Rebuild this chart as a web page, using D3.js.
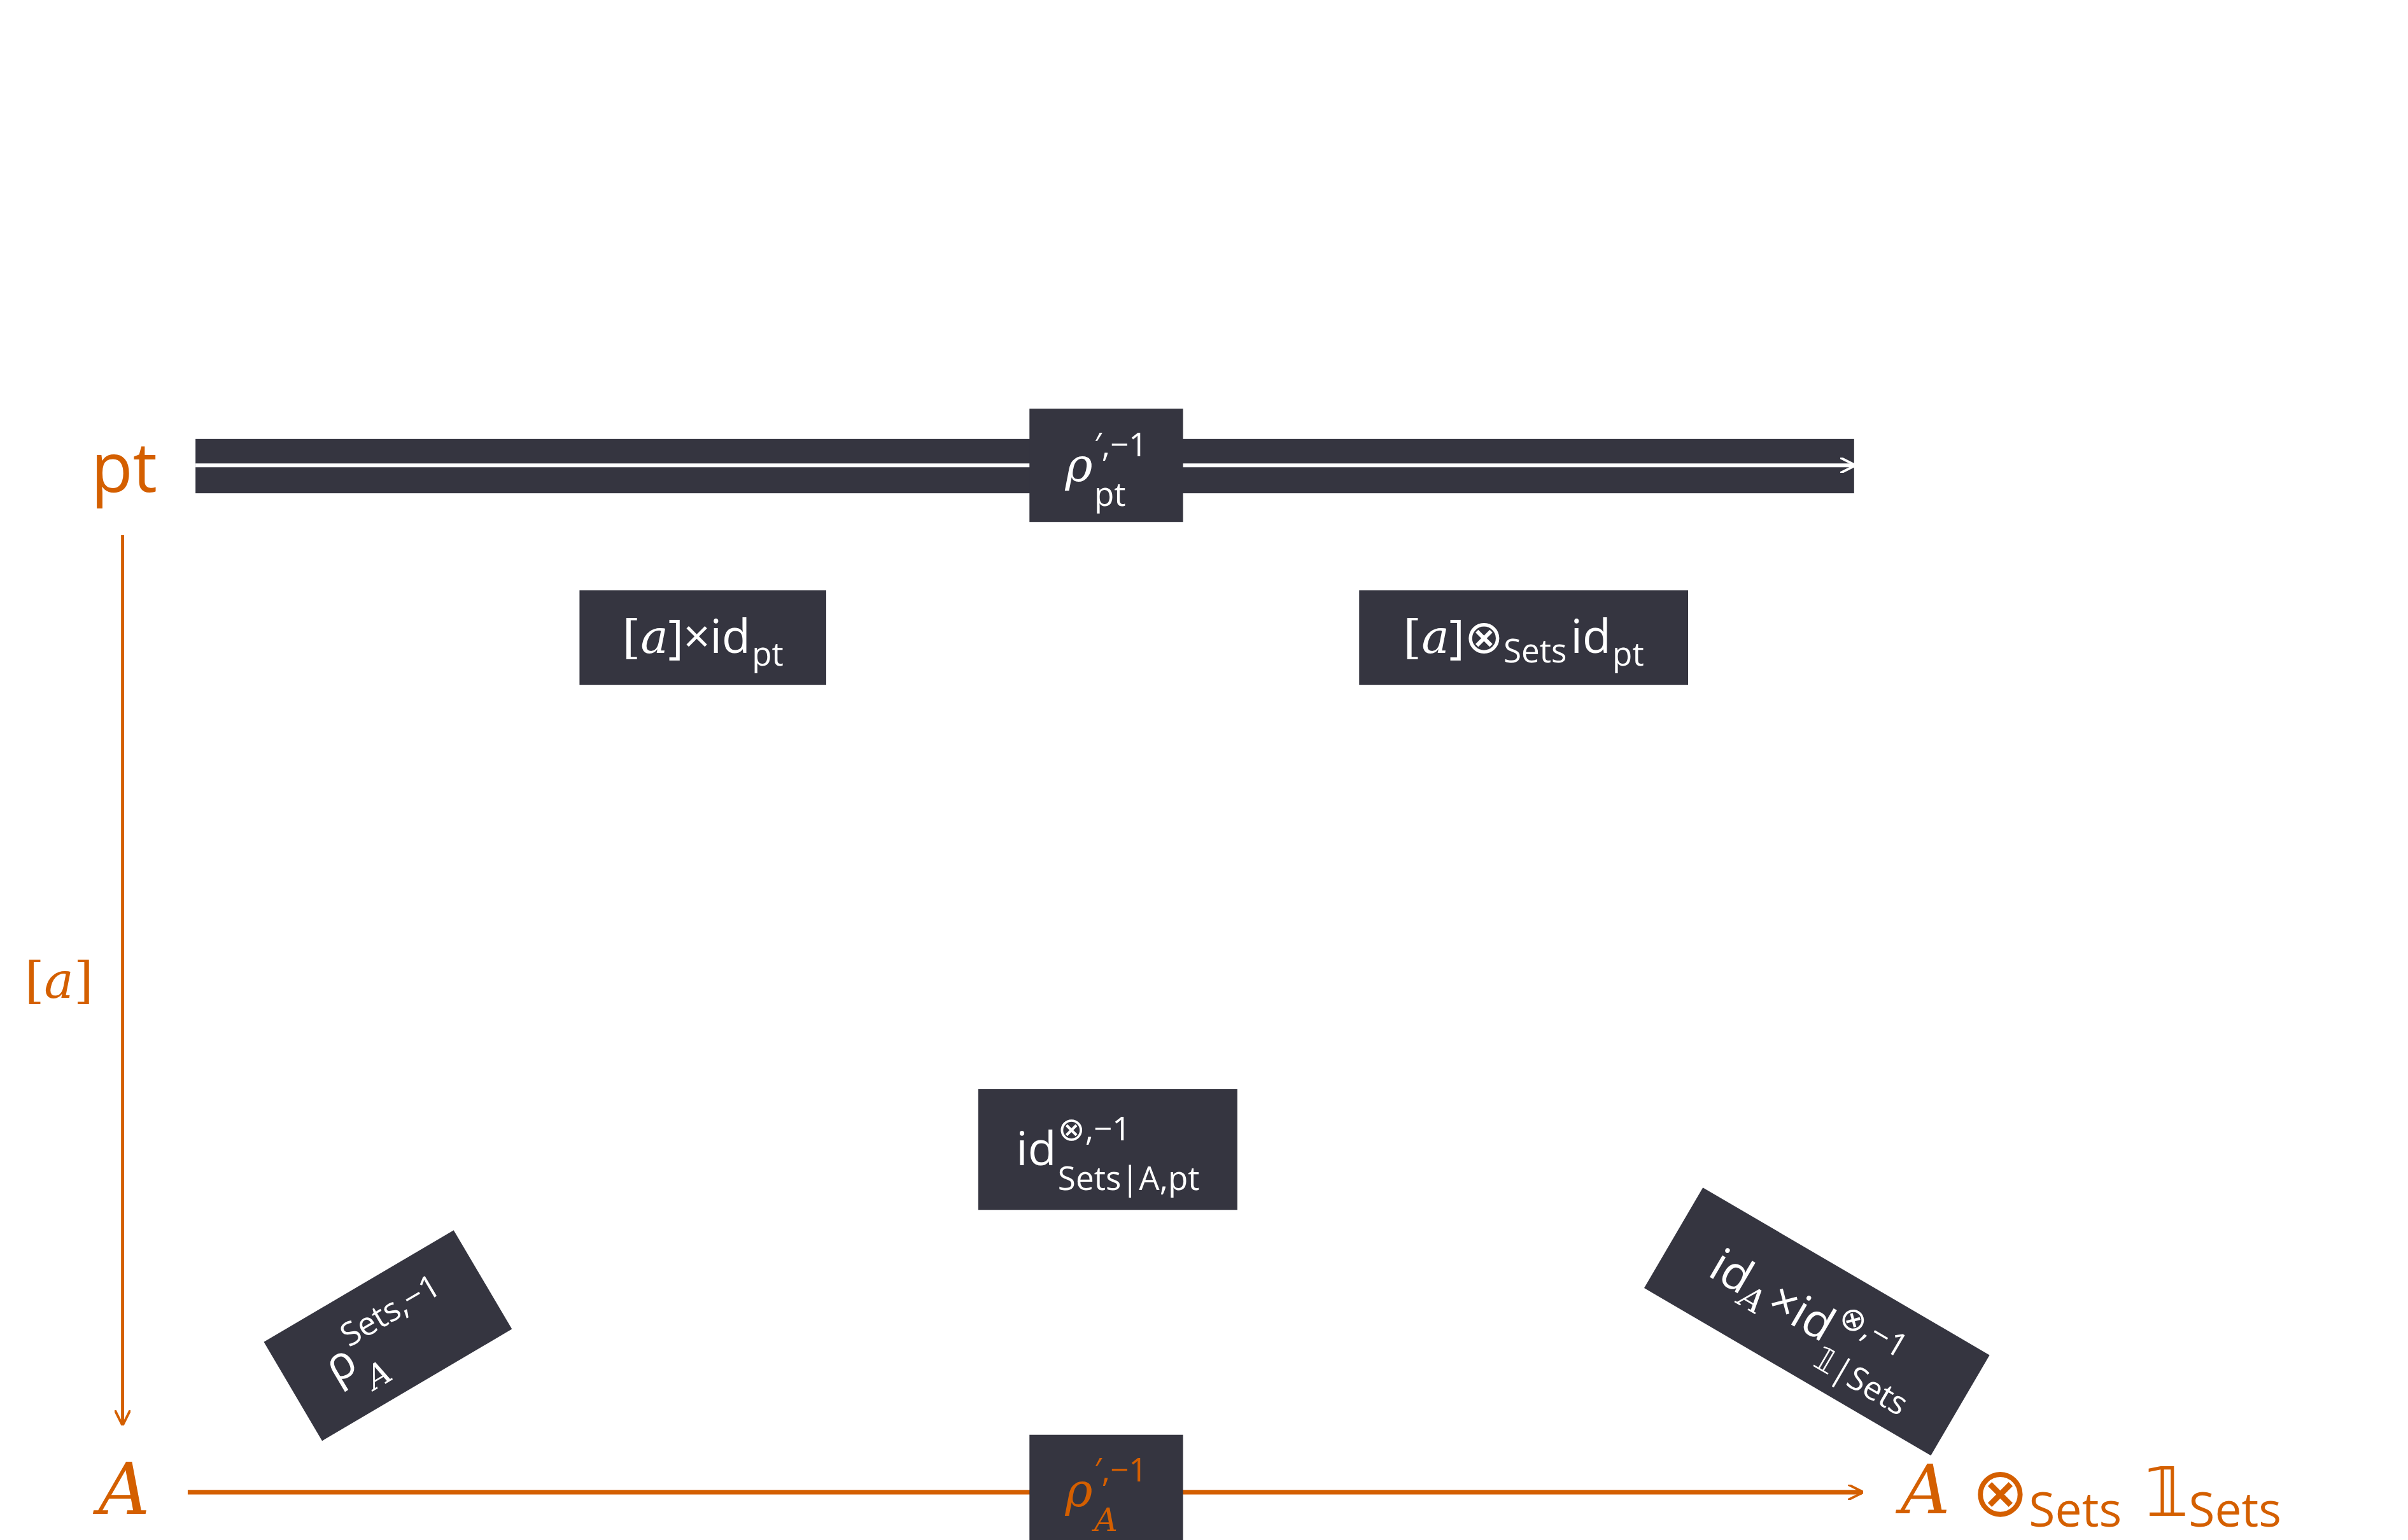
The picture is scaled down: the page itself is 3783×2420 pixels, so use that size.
<!doctype html>
<html><head><meta charset="utf-8">
<style>body{margin:0;background:#fff}svg{display:block}</style>
</head><body>
<svg id="c"></svg>
<script src="https://d3js.org/d3.v7.min.js"></script>
<script>
var W = 3783, H = 2420, S = 3783 / 1552;
var ORANGE = "#d45f00", DARK = "#353540";

// diagram data (display units, scaled by S)
var nodes = [
  {id: "pt", x: 80, y: 300, parts: [{t: "pt"}], size: 44},
  {id: "A", x: 80, y: 960, parts: [{t: "A", it: 1}], size: 46},
  {id: "T", x: 1225, y: 960, anchor: "start", size: 44,
   parts: [{t: "A ", it: 1}, {t: "⊗"}, {t: "Sets", sub: 1}, {t: " 𝟙"}, {t: "Sets", sub: 1}]}
];
var edges = [
  {x1: 126, y1: 300, x2: 1195, y2: 300, kind: "double"},
  {x1: 79, y1: 345, x2: 79, y2: 918, kind: "orange"},
  {x1: 121, y1: 962, x2: 1200, y2: 962, kind: "orangeThick"}
];
var boxes = [
  {cx: 713, cy: 300, w: 99, h: 73, rot: 0, color: "#fff", base: [{t: "ρ", it: 1}], sup: "′,−1", sub: "pt"},
  {cx: 453, cy: 411, w: 159, h: 61, rot: 0, color: "#fff", base: [{t: "[", f: "serif"}, {t: "a", it: 1}, {t: "]×id", f: "mix"}], sub: "pt"},
  {cx: 982, cy: 411, w: 212, h: 61, rot: 0, color: "#fff", base: [{t: "[", f: "serif"}, {t: "a", it: 1}, {t: "]⊗", f: "mix"}, {t: "Sets", small: 1}, {t: "id"}], sub: "pt"},
  {cx: 714, cy: 741, w: 167, h: 78, rot: 0, color: "#fff", base: [{t: "id"}], sup: "⊗,−1", sub: "Sets|A,pt"},
  {cx: 713, cy: 961, w: 99, h: 72, rot: 0, color: ORANGE, base: [{t: "ρ", it: 1}], sup: "′,−1", sub: "A", subIt: 1},
  {cx: 250, cy: 861, w: 142, h: 74, rot: -30.5, color: "#fff", base: [{t: "ρ"}], sup: "Sets,−1", sub: "A", subIt: 1},
  {cx: 1171, cy: 852, w: 214, h: 75, rot: 30.3, color: "#fff", base: [{t: "id"}, {t: "A", it: 1, small: 1}, {t: "×id"}], sup: "⊗,−1", sub: "𝟙|Sets"}
];
var edgeLabels = [{x: 38, y: 632, parts: [{t: "[", f: "serif"}, {t: "a", it: 1}, {t: "]", f: "serif"}]}];

var sx = d3.scaleLinear().domain([0, 1552]).range([0, W]);
var sy = d3.scaleLinear().domain([0, 2420 / S]).range([0, H]);

var svg = d3.select("#c").attr("width", W).attr("height", H);
var defs = svg.append("defs");
function marker(id, col) {
  defs.append("marker").attr("id", id).attr("viewBox", "0 0 10 10").attr("refX", 9).attr("refY", 5)
    .attr("markerWidth", 10).attr("markerHeight", 10).attr("markerUnits", "userSpaceOnUse")
    .attr("orient", "auto")
    .append("path").attr("d", "M0,0 L10,5 L0,10").attr("fill", "none").attr("stroke", col).attr("stroke-width", 1.6);
}

var sans = "'Open Sans', 'DejaVu Sans', sans-serif", serif = "'DejaVu Serif', serif";
function addParts(t, parts, size) {
  parts.forEach(function(p) {
    var ts = t.append("tspan").text(p.t)
      .attr("font-family", p.it || p.f === "serif" ? serif : sans)
      .attr("font-style", p.it ? "italic" : null);
    if (p.sub) ts.attr("font-size", size * 0.7).attr("dy", size * 0.28);
    else if (p.small) ts.attr("font-size", size * 0.7).attr("dy", size * 0.2);
    else ts.attr("font-size", size);
    if (p.sub || p.small) {
      var back = t.append("tspan").text("\u200a").attr("dy", -(p.sub ? size * 0.28 : size * 0.2)).attr("font-size", size);
    }
  });
}

var g = svg.append("g").attr("transform", "scale(" + S + ")");

// edges
edges.forEach(function(e) {
  if (e.kind === "double") {
    g.append("rect").attr("x", e.x1).attr("y", e.y1 - 17).attr("width", e.x2 - e.x1).attr("height", 35).attr("fill", DARK);
    marker("mw", "#fff");
    g.append("line").attr("x1", e.x1).attr("y1", e.y1).attr("x2", e.x2).attr("y2", e.y2)
      .attr("stroke", "#fff").attr("stroke-width", 2.5).attr("marker-end", "url(#mw)");
  } else {
    marker("mo" + e.kind, ORANGE);
    g.append("line").attr("x1", e.x1).attr("y1", e.y1).attr("x2", e.x2).attr("y2", e.y2)
      .attr("stroke", ORANGE).attr("stroke-width", e.kind === "orangeThick" ? 3 : 2)
      .attr("marker-end", "url(#mo" + e.kind + ")");
  }
});

// nodes
nodes.forEach(function(n) {
  var t = g.append("text").attr("x", n.x).attr("y", n.y).attr("fill", ORANGE)
    .attr("text-anchor", n.anchor || "middle").attr("dominant-baseline", "central");
  addParts(t, n.parts, n.size);
});
edgeLabels.forEach(function(l) {
  var t = g.append("text").attr("x", l.x).attr("y", l.y).attr("fill", ORANGE)
    .attr("text-anchor", "middle").attr("dominant-baseline", "central");
  addParts(t, l.parts, 32);
});

// label boxes
boxes.forEach(function(b) {
  var bg = g.append("g").attr("transform", "translate(" + b.cx + "," + b.cy + ") rotate(" + b.rot + ")");
  bg.append("rect").attr("x", -b.w / 2).attr("y", -b.h / 2).attr("width", b.w).attr("height", b.h).attr("fill", DARK);
  var inner = bg.append("g");
  var size = 30;
  var t = inner.append("text").attr("fill", b.color).attr("y", 10);
  addParts(t, b.base, size);
  var bw = t.node().getComputedTextLength();
  var supW = 0, subW = 0;
  if (b.sup) {
    var s1 = inner.append("text").attr("x", bw + 1).attr("y", -6).attr("fill", b.color)
      .attr("font-family", sans).attr("font-size", size * 0.7).text(b.sup);
    supW = s1.node().getComputedTextLength();
  }
  if (b.sub) {
    var s2 = inner.append("text").attr("x", bw + 1).attr("y", b.sup ? 26 : 18).attr("fill", b.color)
      .attr("font-family", b.subIt ? serif : sans).attr("font-style", b.subIt ? "italic" : null)
      .attr("font-size", size * 0.7).text(b.sub);
    subW = s2.node().getComputedTextLength();
  }
  var total = bw + 1 + Math.max(supW, subW);
  inner.attr("transform", "translate(" + (-total / 2) + ",0)");
});
</script>
</body></html>
